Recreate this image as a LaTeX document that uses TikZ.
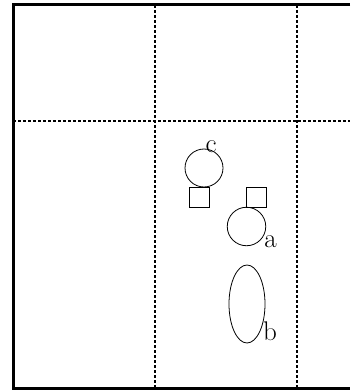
\documentclass[tikz,border=0pt]{standalone}
\usepackage{fontspec}
\usetikzlibrary{shapes.geometric}
\begin{document}
\begin{tikzpicture}[x=1pt,y=-1pt,
  frame/.style={line width=3pt},
  grid/.style={dashed,line width=1.1pt,dash pattern=on 3pt off 2pt},
  shp/.style={draw,line width=0.8pt,inner sep=0pt},
  lbl/.style={font=\fontsize{27}{27}\selectfont,inner sep=0pt}]
\useasboundingbox (0,0) rectangle (350,390);
% frame
\draw[frame] (350,5) -- (13,5) -- (13,388) -- (350,388);
% grid
\draw[grid] (13,121) -- (350,121);
\draw[grid] (155,5) -- (155,388);
\draw[grid] (297,5) -- (297,388);
% shapes
\node[shp,circle,minimum size=38pt] (c) at (204,168) {};
\node[shp,rectangle,minimum size=20pt] (sc) at (199,197) {};
\node[shp,rectangle,minimum size=20pt] (sa) at (256,197.5) {};
\node[shp,circle,minimum size=38.5pt] (a) at (246.5,226.5) {};
\node[shp,ellipse,minimum width=36pt,minimum height=78pt] (b) at (247,304) {};
% labels
\node[lbl,anchor=base] (lc) at (211,152) {c};
\node[lbl,anchor=base] (la) at (270.5,247) {a};
\node[lbl,anchor=base] (lb) at (270,340) {b};
\end{tikzpicture}
\end{document}
